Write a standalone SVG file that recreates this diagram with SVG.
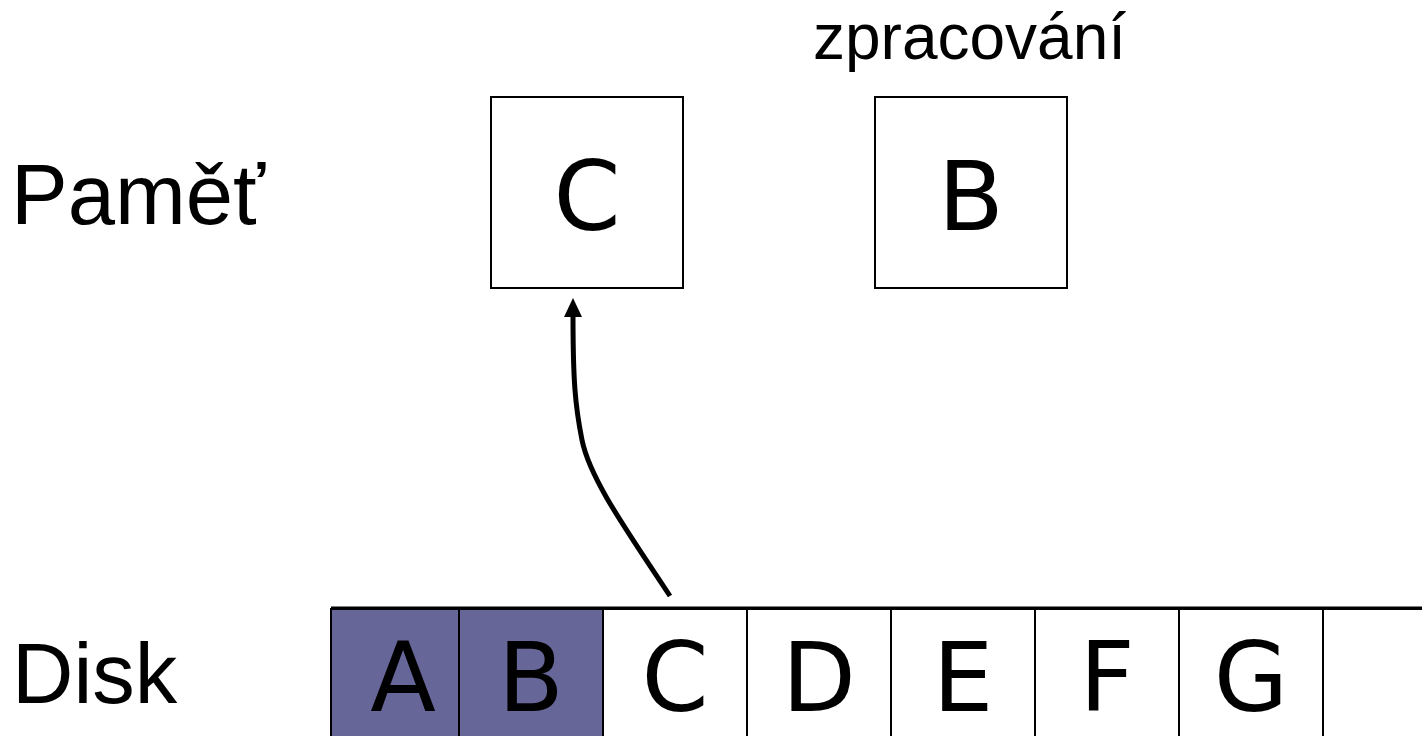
<svg xmlns="http://www.w3.org/2000/svg" width="1422" height="736" viewBox="0 0 1422 736">
<style>
.lbl{font-family:"Liberation Sans",Arial,sans-serif;fill:#000}
.big{font-family:"DejaVu Sans",Verdana,sans-serif;font-size:96px;fill:#000;text-anchor:middle}
.box{fill:#fff;stroke:#000;stroke-width:2}
.cell{stroke:#000;stroke-width:2}
.used{fill:#666699}
.free{fill:#fff}
</style>
<rect width="1422" height="736" fill="#fff"/>
<text class="lbl" x="11" y="224" font-size="85">Paměť</text>
<text class="lbl" x="12" y="703" font-size="85">Disk</text>
<text class="lbl" x="813" y="59" font-size="64">zpracování</text>
<g id="mem-c">
<rect class="box" x="491" y="97" width="192" height="191"/>
<text class="big" x="587" y="230">C</text>
</g>
<g id="mem-b">
<rect class="box" x="875" y="97" width="192" height="191"/>
<text class="big" x="971" y="230">B</text>
</g>
<g id="disk">
<g id="disk-a"><rect class="cell used" x="331" y="609" width="128" height="140"/><text class="big" x="403" y="711">A</text></g>
<g id="disk-b"><rect class="cell used" x="459" y="609" width="144" height="140"/><text class="big" x="531" y="711">B</text></g>
<g id="disk-c"><rect class="cell free" x="603" y="609" width="144" height="140"/><text class="big" x="675" y="711">C</text></g>
<g id="disk-d"><rect class="cell free" x="747" y="609" width="144" height="140"/><text class="big" x="819" y="711">D</text></g>
<g id="disk-e"><rect class="cell free" x="891" y="609" width="144" height="140"/><text class="big" x="963" y="711">E</text></g>
<g id="disk-f"><rect class="cell free" x="1035" y="609" width="144" height="140"/><text class="big" x="1107" y="711">F</text></g>
<g id="disk-g"><rect class="cell free" x="1179" y="609" width="144" height="140"/><text class="big" x="1251" y="711">G</text></g>
<g id="disk-h"><rect class="cell free" x="1323" y="609" width="144" height="140"/></g>
<line x1="331" y1="608" x2="1422" y2="608" stroke="#000" stroke-width="3"/>
</g>
<g id="connectors">
<path d="M 670 596 C 630 535 590 480 582 440 C 575 405 573 380 573 314" fill="none" stroke="#000" stroke-width="5"/>
<polygon points="573,298 564,317 582,317" fill="#000"/>
</g>
</svg>
